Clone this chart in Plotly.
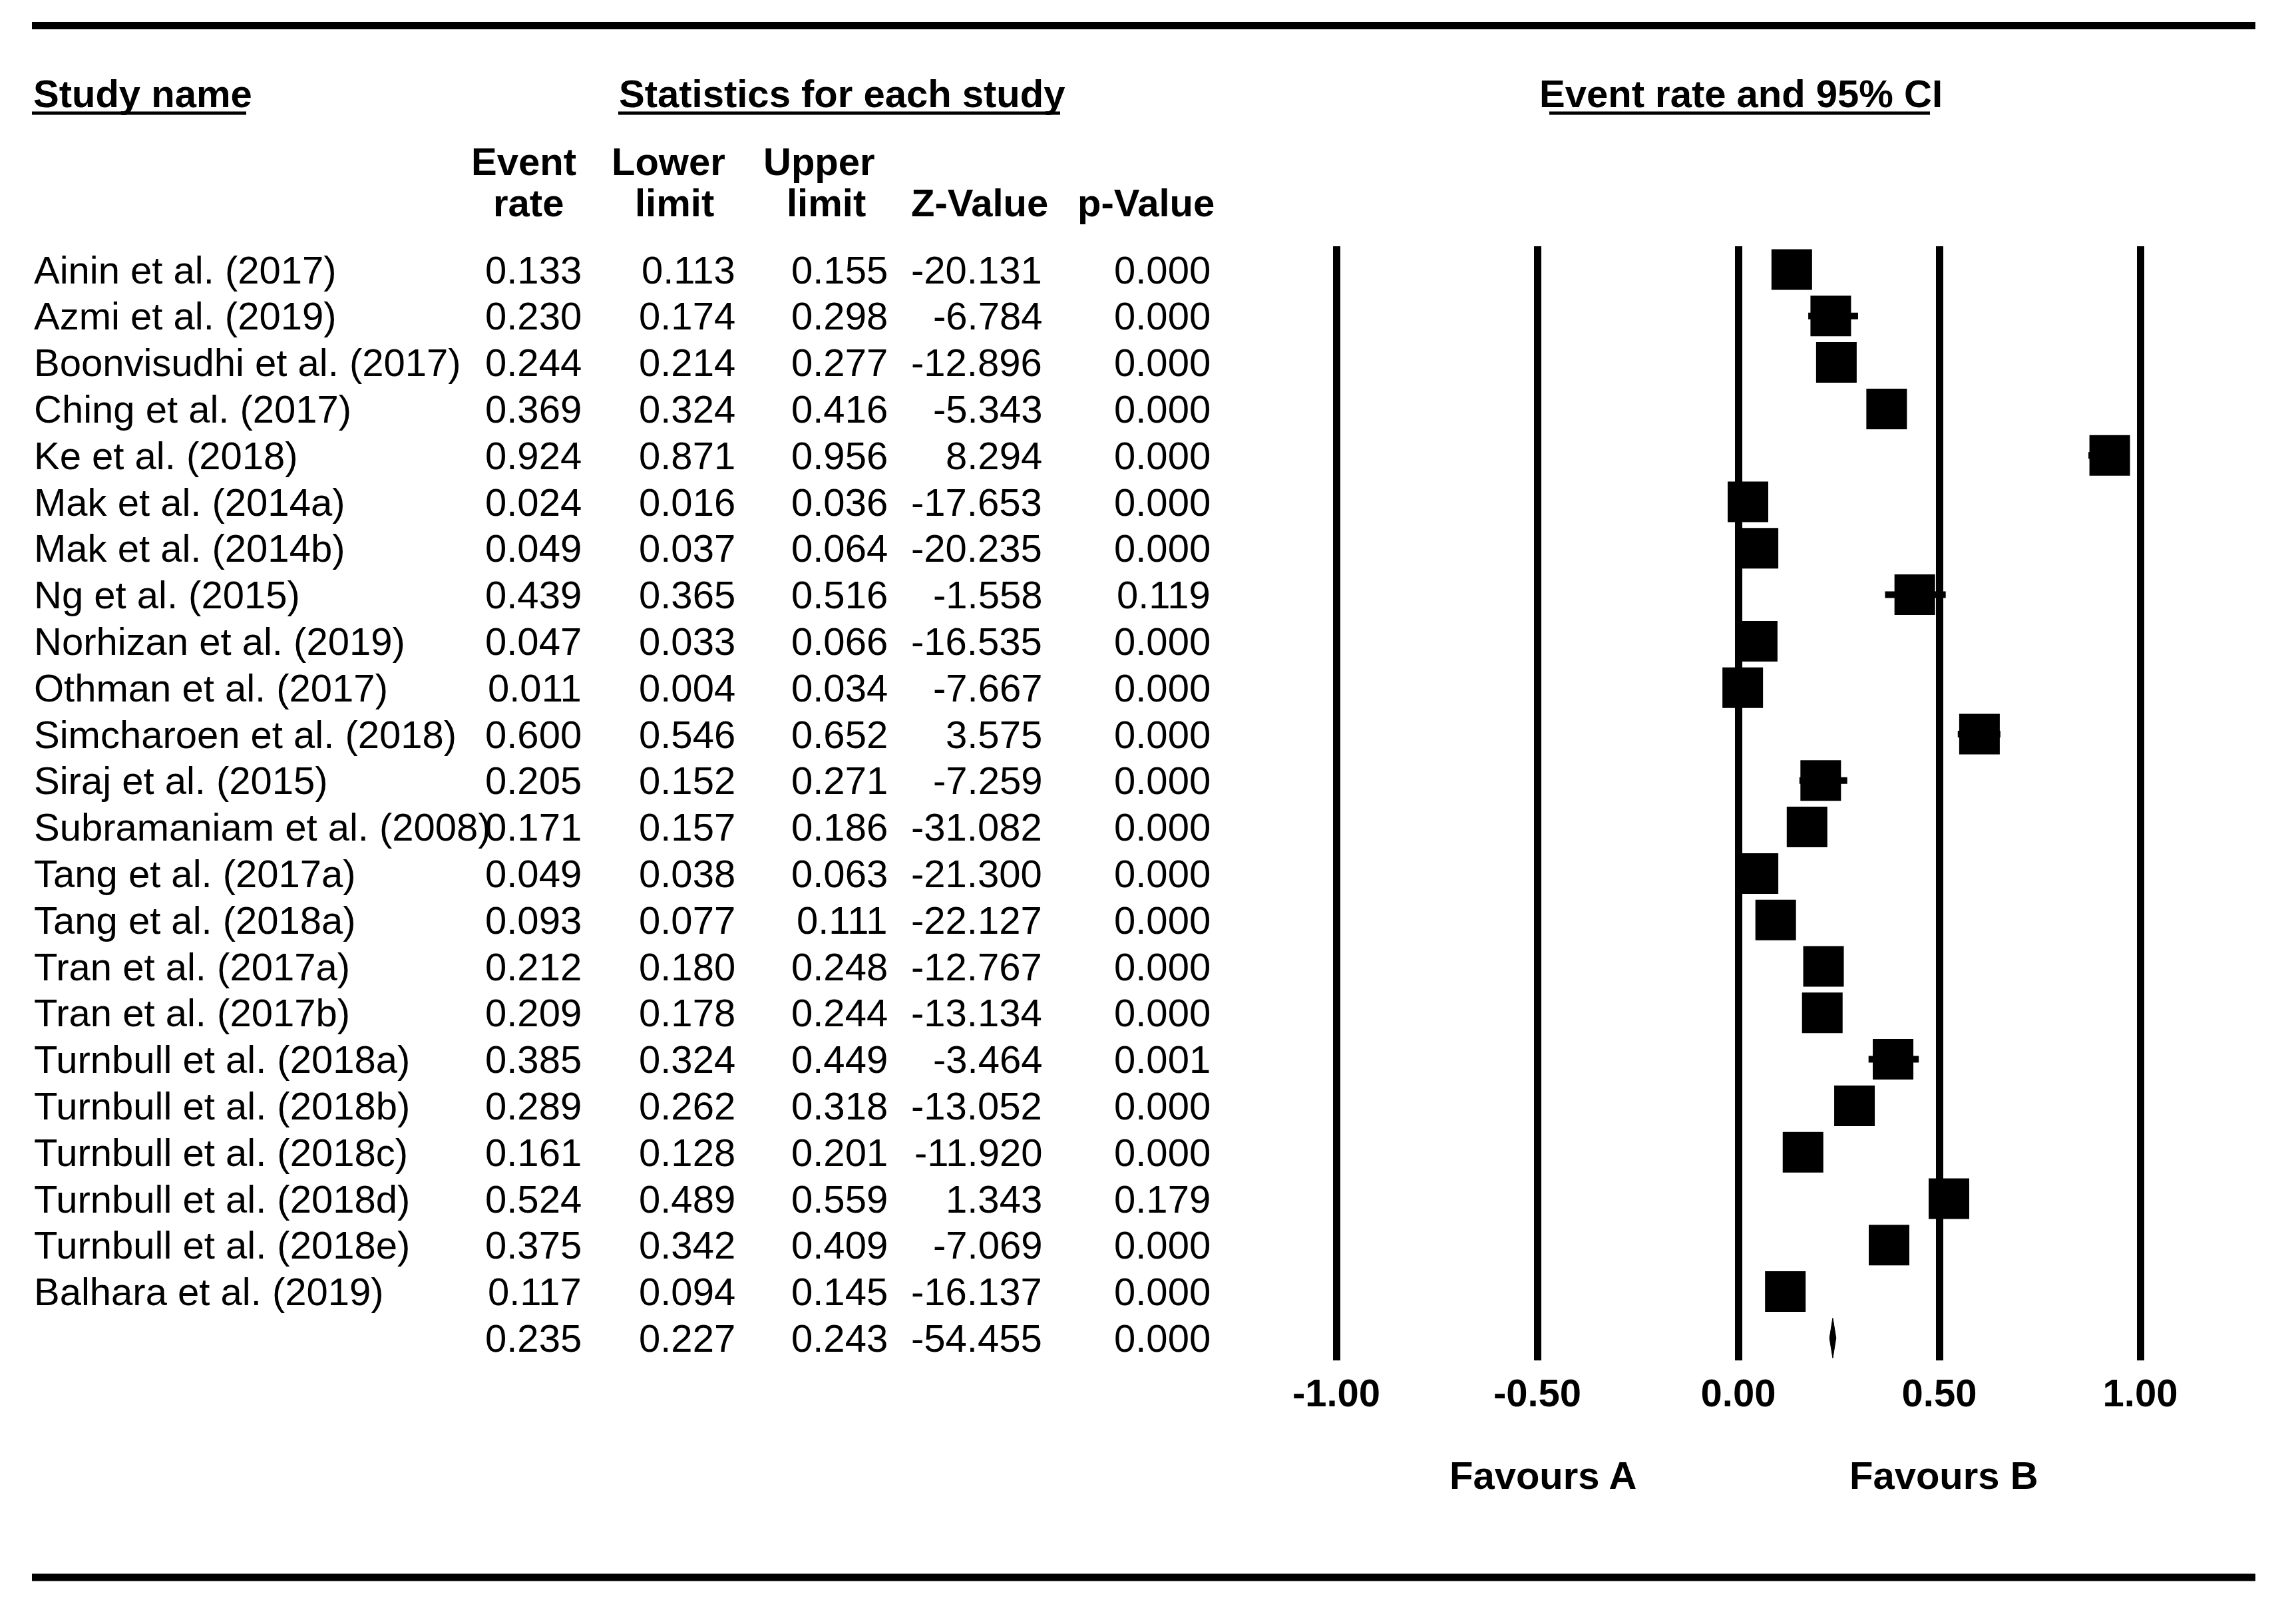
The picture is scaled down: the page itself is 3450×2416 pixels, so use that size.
import plotly.graph_objects as go

# ---------------- data ----------------
study_names = [
    "Ainin et al. (2017)", "Azmi et al. (2019)", "Boonvisudhi et al. (2017)",
    "Ching et al. (2017)", "Ke et al. (2018)", "Mak et al. (2014a)",
    "Mak et al. (2014b)", "Ng et al. (2015)", "Norhizan et al. (2019)",
    "Othman et al. (2017)", "Simcharoen et al. (2018)", "Siraj et al. (2015)",
    "Subramaniam et al. (2008)", "Tang et al. (2017a)", "Tang et al. (2018a)",
    "Tran et al. (2017a)", "Tran et al. (2017b)", "Turnbull et al. (2018a)",
    "Turnbull et al. (2018b)", "Turnbull et al. (2018c)", "Turnbull et al. (2018d)",
    "Turnbull et al. (2018e)", "Balhara et al. (2019)",
]
event_rate = [0.133, 0.230, 0.244, 0.369, 0.924, 0.024, 0.049, 0.439, 0.047, 0.011,
              0.600, 0.205, 0.171, 0.049, 0.093, 0.212, 0.209, 0.385, 0.289, 0.161,
              0.524, 0.375, 0.117]
lower_limit = [0.113, 0.174, 0.214, 0.324, 0.871, 0.016, 0.037, 0.365, 0.033, 0.004,
               0.546, 0.152, 0.157, 0.038, 0.077, 0.180, 0.178, 0.324, 0.262, 0.128,
               0.489, 0.342, 0.094]
upper_limit = [0.155, 0.298, 0.277, 0.416, 0.956, 0.036, 0.064, 0.516, 0.066, 0.034,
               0.652, 0.271, 0.186, 0.063, 0.111, 0.248, 0.244, 0.449, 0.318, 0.201,
               0.559, 0.409, 0.145]
z_value = [-20.131, -6.784, -12.896, -5.343, 8.294, -17.653, -20.235, -1.558, -16.535,
           -7.667, 3.575, -7.259, -31.082, -21.300, -22.127, -12.767, -13.134, -3.464,
           -13.052, -11.920, 1.343, -7.069, -16.137]
p_value = [0.000, 0.000, 0.000, 0.000, 0.000, 0.000, 0.000, 0.119, 0.000, 0.000,
           0.000, 0.000, 0.000, 0.000, 0.000, 0.000, 0.000, 0.001, 0.000, 0.000,
           0.179, 0.000, 0.000]
summary_event = 0.235
summary_lower = 0.227
summary_upper = 0.243
summary_z = -54.455
summary_p = 0.000

tick_values = [-1.0, -0.5, 0.0, 0.5, 1.0]
tick_labels = ["-1.00", "-0.50", "0.00", "0.50", "1.00"]

# ---------------- layout constants ----------------
OFF = 8                      # default page body margin
W, H = 3450 - OFF, 2416 - OFF
FONT = "Liberation Sans, Arial, Helvetica, sans-serif"
FS = 58
n = len(study_names)
rows = list(range(n))
summary_row = n


def px(x):
    return (x - OFF) / W


def py(y):
    return 1 - (y - OFF) / H


fig = go.Figure()

# CI whiskers + squares
fig.add_trace(go.Scatter(
    x=event_rate, y=rows, mode="markers",
    marker=dict(symbol="square", size=61, color="black", line=dict(width=0)),
    error_x=dict(type="data", symmetric=False,
                 array=[u - e for u, e in zip(upper_limit, event_rate)],
                 arrayminus=[e - l for e, l in zip(event_rate, lower_limit)],
                 color="black", thickness=10, width=0),
    hoverinfo="skip", showlegend=False, cliponaxis=False,
))

# summary diamond
dh = 0.43
fig.add_trace(go.Scatter(
    x=[summary_lower, summary_event, summary_upper, summary_event, summary_lower],
    y=[summary_row, summary_row - dh, summary_row, summary_row + dh, summary_row],
    mode="lines", fill="toself", fillcolor="black",
    line=dict(color="black", width=1), hoverinfo="skip", showlegend=False,
))

annotations = []


def add_text(text, x, y, xanchor="left", bold=False, yref="paper"):
    annotations.append(dict(
        text=f"<b>{text}</b>" if bold else text,
        x=x, y=y, xref="paper", yref=yref, xanchor=xanchor, yanchor="middle",
        showarrow=False, font=dict(family=FONT, size=FS, color="black"),
    ))


# table body
col_right = [876, 1107, 1336, 1568, 1821]
for i in range(n):
    add_text(study_names[i], px(49), i, "left", yref="y")
    vals = [f"{event_rate[i]:.3f}", f"{lower_limit[i]:.3f}", f"{upper_limit[i]:.3f}",
            f"{z_value[i]:.3f}", f"{p_value[i]:.3f}"]
    for v, xr in zip(vals, col_right):
        add_text(v, px(xr), i, "right", yref="y")
svals = [f"{summary_event:.3f}", f"{summary_lower:.3f}", f"{summary_upper:.3f}",
         f"{summary_z:.3f}", f"{summary_p:.3f}"]
for v, xr in zip(svals, col_right):
    add_text(v, px(xr), summary_row, "right", yref="y")

# headers
add_text("Study name", px(48), py(141), "left", bold=True)
add_text("Statistics for each study", px(1265), py(141), "center", bold=True)
add_text("Event rate and 95% CI", px(2616), py(141), "center", bold=True)
add_text("Event", px(787), py(242), "center", bold=True)
add_text("rate", px(794), py(304), "center", bold=True)
add_text("Lower", px(1005), py(242), "center", bold=True)
add_text("limit", px(1013), py(304), "center", bold=True)
add_text("Upper", px(1231), py(242), "center", bold=True)
add_text("limit", px(1241), py(304), "center", bold=True)
add_text("Z-Value", px(1472), py(304), "center", bold=True)
add_text("p-Value", px(1722), py(304), "center", bold=True)
add_text("Favours A", px(2318), py(2216), "center", bold=True)
add_text("Favours B", px(2921), py(2216), "center", bold=True)

shapes = []
# top / bottom rules
for yy in (38.5, 2370):
    shapes.append(dict(type="line", xref="paper", yref="paper",
                       x0=px(48), x1=px(3389), y0=py(yy), y1=py(yy),
                       line=dict(color="black", width=11)))
# header underlines
for x0, x1 in ((48, 370), (929, 1593), (2328, 2900)):
    shapes.append(dict(type="line", xref="paper", yref="paper",
                       x0=px(x0), x1=px(x1), y0=py(170), y1=py(170),
                       line=dict(color="black", width=5)))

top_px, bot_px = 370, 2044
row_px0, row_step = 405, 69.8
r_top = -(row_px0 - top_px) / row_step
r_bot = r_top + (bot_px - top_px) / row_step

zero_px, unit_px = 2612, 604

fig.update_layout(
    width=W, height=H,
    margin=dict(l=0, r=0, t=0, b=0),
    paper_bgcolor="white", plot_bgcolor="white",
    showlegend=False,
    annotations=annotations,
    shapes=shapes,
    xaxis=dict(
        domain=[0, 1],
        range=[(OFF - zero_px) / unit_px, (OFF + W - zero_px) / unit_px],
        tickmode="array", tickvals=tick_values, ticktext=tick_labels,
        showgrid=True, gridcolor="black", gridwidth=11,
        zeroline=False, showline=False, ticks="",
        tickfont=dict(family=FONT, size=FS, color="black", weight="bold"),
        ticklabelstandoff=10,
        fixedrange=True,
    ),
    yaxis=dict(
        domain=[py(bot_px), py(top_px)],
        range=[r_bot, r_top],
        showgrid=False, zeroline=False, showline=False,
        showticklabels=False, ticks="", fixedrange=True,
    ),
)

fig.write_html("out.html")
